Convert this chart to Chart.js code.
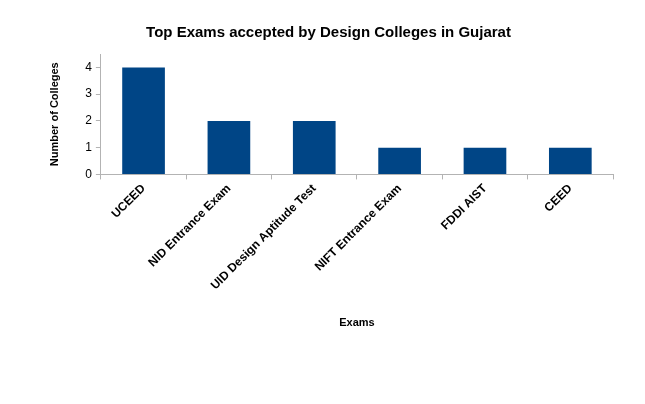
<!DOCTYPE html>
<html>
<head>
<meta charset="UTF-8">
<script src="https://cdn.jsdelivr.net/npm/chart.js@4.4.3/dist/chart.umd.min.js"></script>
<style>
  html, body { margin: 0; background: #fff; }
  #wrap { width: 645px; height: 404px; }
</style>
</head>
<body>
<div id="wrap"><canvas id="chart"></canvas></div>
<script>
const exams = ['UCEED', 'NID Entrance Exam', 'UID Design Aptitude Test', 'NIFT Entrance Exam', 'FDDI AIST', 'CEED'];
const colleges = [4, 2, 2, 1, 1, 1];
const yTicks = [0, 1, 2, 3, 4];

Chart.defaults.font.family = '"Liberation Sans", Arial, sans-serif';
Chart.defaults.color = '#000';

new Chart(document.getElementById('chart'), {
  type: 'bar',
  data: {
    labels: exams,
    datasets: [{
      label: 'Number of Colleges',
      data: colleges,
      backgroundColor: '#004586',
      barPercentage: 0.5,
      categoryPercentage: 1
    }]
  },
  options: {
    responsive: true,
    maintainAspectRatio: false,
    animation: false,
    layout: { padding: { left: 44, right: 32, top: 10, bottom: 70 } },
    plugins: {
      legend: { display: false },
      tooltip: { enabled: false },
      title: {
        display: true,
        text: 'Top Exams accepted by Design Colleges in Gujarat',
        font: { size: 15, weight: 'bold' },
        padding: { top: 14, bottom: 12 }
      }
    },
    scales: {
      x: {
        border: { color: '#b3b3b3' },
        grid: { drawOnChartArea: false, color: '#b3b3b3', tickLength: 5 },
        ticks: { maxRotation: 45, minRotation: 45, font: { size: 12, weight: 'bold' }, padding: 2 },
        title: { display: true, text: 'Exams', font: { size: 11, weight: 'bold' }, padding: { top: 22 } }
      },
      y: {
        min: 0,
        max: 4.5,
        border: { color: '#b3b3b3' },
        grid: { drawOnChartArea: false, color: '#b3b3b3', tickLength: 5 },
        afterBuildTicks: axis => { axis.ticks = yTicks.map(v => ({ value: v })); },
        ticks: { font: { size: 12 }, padding: 4 },
        title: { display: true, text: 'Number of Colleges', font: { size: 11, weight: 'bold' }, padding: { bottom: 20 } }
      }
    }
  }
});
</script>
</body>
</html>
